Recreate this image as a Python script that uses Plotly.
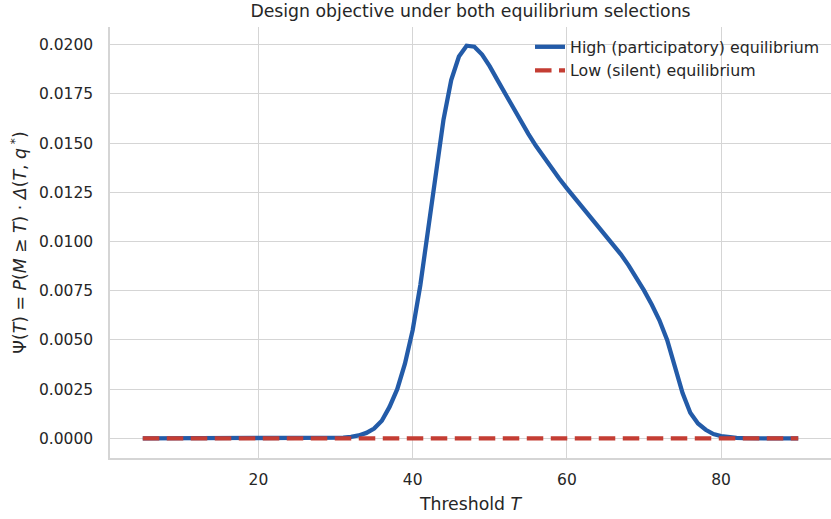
import plotly.graph_objects as go

# Threshold grid
T = list(range(5, 91))

# Design objective under the high (participatory) equilibrium, T = 5..90
psi_high = (
    [0.0] * 25  # T = 5..29
    + [0.00002, 0.00004, 0.00008, 0.00015, 0.00028, 0.0005, 0.0009,      # 30..36
       0.0016, 0.0025, 0.0038, 0.0055, 0.0078, 0.0106, 0.0135,         # 37..43
       0.0162, 0.0182, 0.0194, 0.01995, 0.0199, 0.0195, 0.0189,        # 44..50
       0.0182, 0.0175, 0.0168, 0.01612, 0.01547, 0.01485, 0.01427,     # 51..57
       0.01372, 0.0132, 0.0127, 0.01222, 0.01175, 0.01129, 0.01083,    # 58..64
       0.01036, 0.00987, 0.00935, 0.00879, 0.00818, 0.00752, 0.0068,   # 65..71
       0.0060, 0.0050, 0.0036, 0.0023, 0.0013, 0.00076, 0.00044,       # 72..78
       0.00022, 0.00012, 0.00006, 0.00003, 0.00001]                    # 79..83
    + [0.0] * 7  # T = 84..90
)

# Design objective under the low (silent) equilibrium
psi_low = [0.0] * len(T)

x_ticks = [20, 40, 60, 80]
y_ticks = [0.0, 0.0025, 0.005, 0.0075, 0.01, 0.0125, 0.015, 0.0175, 0.02]

TEXT = "#262626"
GRID = "#d5d5d5"
FONT = "DejaVu Sans"

fig = go.Figure()
fig.add_trace(go.Scatter(
    x=T, y=psi_high, mode="lines",
    name="High (participatory) equilibrium",
    line=dict(color="#235ba8", width=4.3),
))
fig.add_trace(go.Scatter(
    x=T, y=psi_low, mode="lines",
    name="Low (silent) equilibrium",
    line=dict(color="#c43d33", width=4.3, dash="16.5px,7.5px"),
))

fig.update_layout(
    width=831, height=519,
    margin=dict(l=110, r=0, t=27, b=61),
    paper_bgcolor="white", plot_bgcolor="white",
    font=dict(family=FONT, size=15.5, color=TEXT),
    title=dict(
        text="Design objective under both equilibrium selections",
        x=(110 + 831) / 2 / 831, xanchor="center", xref="container",
        y=1 - 11 / 519, yanchor="middle", yref="container",
        font=dict(size=17.3, color=TEXT),
    ),
    legend=dict(
        x=0.9917, xanchor="right", y=0.993, yanchor="top",
        bgcolor="rgba(255,255,255,0)", borderwidth=0,
        font=dict(size=15.8, color=TEXT),
        itemwidth=30, tracegroupgap=0,
    ),
    showlegend=True,
)

fig.update_xaxes(
    range=[0.75, 94.25],
    tickvals=x_ticks,
    ticktext=[str(v) for v in x_ticks],
    tickfont=dict(size=15.5, color=TEXT),
    ticklabelstandoff=7,
    showgrid=True, gridcolor=GRID, gridwidth=1.3,
    showline=True, linecolor=GRID, linewidth=1.5,
    zeroline=False, ticks="", ticklen=0,
    title=dict(text="Threshold <i>T</i>", font=dict(size=17.3, color=TEXT), standoff=10),
)
fig.update_yaxes(
    range=[-0.000995, 0.0209],
    tickvals=y_ticks,
    ticktext=[f"{v:.4f}" for v in y_ticks],
    tickfont=dict(size=15.5, color=TEXT),
    ticklabelstandoff=12,
    showgrid=True, gridcolor=GRID, gridwidth=1.3,
    showline=True, linecolor=GRID, linewidth=1.5,
    zeroline=False, ticks="", ticklen=0,
    title=dict(
        text="Ψ(<i>T</i>) = <i>P</i>(<i>M</i> ≥ <i>T</i>) · <i>Δ</i>(<i>T</i>, <i>q</i><sup> *</sup>)",
        font=dict(size=17.3, color=TEXT), standoff=8,
    ),
)

fig.write_html("out.html")
